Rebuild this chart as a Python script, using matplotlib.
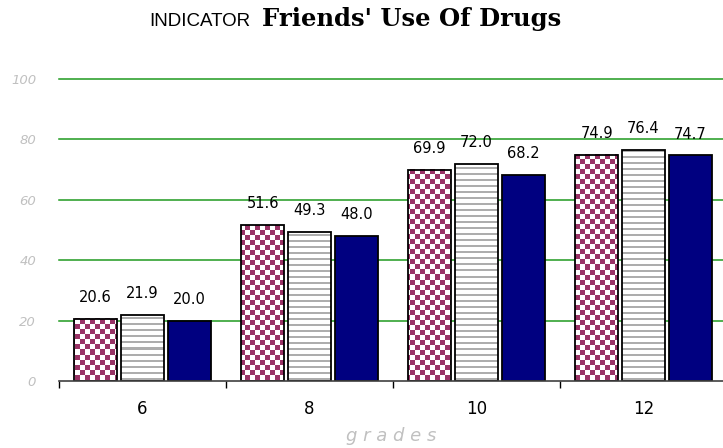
import numpy as np
import matplotlib
matplotlib.use("Agg")
import matplotlib.pyplot as plt
from matplotlib.patches import Rectangle

# Data
grades = ["6", "8", "10", "12"]
series_a = [20.6, 51.6, 69.9, 74.9]   # checkered bars
series_b = [21.9, 49.3, 72.0, 76.4]   # horizontal-striped bars
series_c = [20.0, 48.0, 68.2, 74.7]   # solid navy bars
y_ticks = [0, 20, 40, 60, 80, 100]

W, H, DPI = 723, 448, 100
fig = plt.figure(figsize=(W / DPI, H / DPI), dpi=DPI)
fig.patch.set_facecolor("white")

ax_left, ax_right = 59, 727
ax_bottom, ax_top = 381, 79
ax = fig.add_axes([ax_left / W, (H - ax_bottom) / H,
                   (ax_right - ax_left) / W, (ax_bottom - ax_top) / H])
ax.set_xlim(-0.5, len(grades) - 0.5)
ax.set_ylim(0, 100)

for s in ["top", "right", "left"]:
    ax.spines[s].set_visible(False)
ax.spines["bottom"].set_color("#404040")
ax.spines["bottom"].set_linewidth(1.2)
ax.spines["bottom"].set_zorder(5)

# Gridlines
for yv in y_ticks[1:]:
    ax.axhline(yv, color="#1f9a1f", lw=1.1, zorder=0, clip_on=False)

ax.set_yticks(y_ticks)
ax.set_yticklabels([str(v) for v in y_ticks], color="#c0c0c0",
                   fontstyle="italic", fontsize=9.5)
ax.tick_params(axis="y", length=0, pad=16.5)

x = np.arange(len(grades))
ax.set_xticks(np.arange(len(grades)) - 0.5)
ax.set_xticklabels([])
ax.tick_params(axis="x", which="major", length=5, width=1, color="black",
               direction="out")
ax.set_xticks(x, minor=True)
ax.set_xticklabels(grades, minor=True, fontsize=12)
ax.tick_params(axis="x", which="minor", length=0, pad=14)

offset = 0.281
width = 0.257

fig.canvas.draw()


def pattern_image(x0, x1, y0, y1, kind):
    (px0, py0) = ax.transData.transform((x0, y0))
    (px1, py1) = ax.transData.transform((x1, y1))
    w = max(int(round(px1 - px0)), 1)
    h = max(int(round(py1 - py0)), 1)
    cols = (np.arange(w) + int(round(px0)))[None, :]
    rows = (np.arange(h) + int(round(H - py1)))[:, None]
    img = np.ones((h, w, 3))
    if kind == "check":
        mask = ((cols // 5 + rows // 5) % 2 == 0)
        mask = np.broadcast_to(mask, (h, w))
        img[mask] = np.array([0x99, 0x33, 0x66]) / 255.0
    else:
        mask = np.broadcast_to((rows % 6 < 2), (h, w))
        img[mask] = np.array([0.68, 0.68, 0.68])
    return img


def draw_series(values, dx, kind):
    for xi, v in zip(x, values):
        x0, x1 = xi + dx - width / 2, xi + dx + width / 2
        if kind == "solid":
            ax.add_patch(Rectangle((x0, 0), width, v, facecolor="#000080",
                                   edgecolor="black", lw=1.3, zorder=2))
        else:
            img = pattern_image(x0, x1, 0, v, kind)
            ax.imshow(img, extent=(x0, x1, 0, v), aspect="auto",
                      interpolation="nearest", zorder=2)
            ax.add_patch(Rectangle((x0, 0), width, v, facecolor="none",
                                   edgecolor="black", lw=1.3, zorder=3))
        ax.annotate(f"{v:.1f}", (xi + dx, v), xytext=(0, 10),
                    textcoords="offset points", ha="center", va="bottom",
                    fontsize=10.5, color="black")


draw_series(series_a, -offset, "check")
draw_series(series_b, 0.0, "lines")
draw_series(series_c, offset, "solid")
ax.set_xlim(-0.5, len(grades) - 0.5)
ax.set_ylim(0, 100)

# Title
fig.text(250 / W, 1 - 21 / H, "INDICATOR", ha="right", va="center",
         fontsize=13.5, family="Liberation Sans")
fig.text(262 / W, 1 - 19 / H, "Friends' Use Of Drugs", ha="left", va="center",
         fontsize=17.5, fontweight="bold", family="DejaVu Serif")

# Axis label
fig.text(391 / W, 1 - 436 / H, "g r a d e s", ha="center", va="center",
         fontsize=13, fontstyle="italic", color="#c0c0c0")

fig.savefig("out.png", dpi=DPI)
